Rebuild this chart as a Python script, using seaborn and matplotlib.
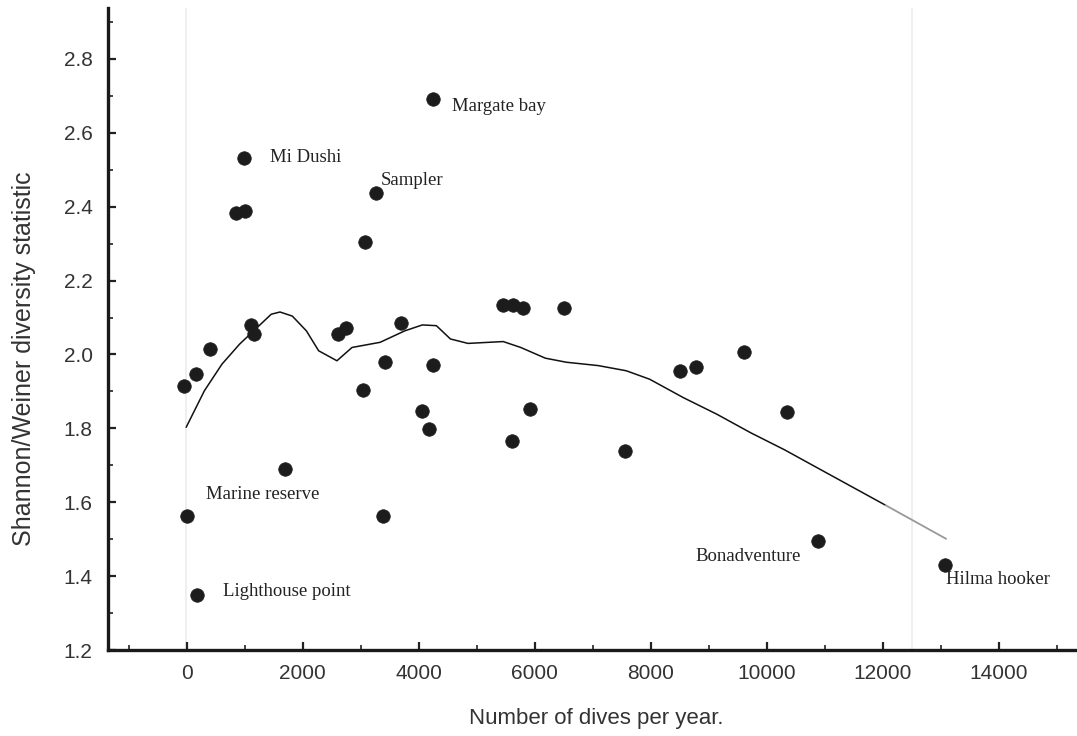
import numpy as np
import pandas as pd
import matplotlib
matplotlib.use("Agg")
import matplotlib.pyplot as plt
import seaborn as sns
from matplotlib.ticker import MultipleLocator

# dive sites: dives per year vs Shannon/Weiner diversity
dives = [-50, 150, 400, 1100, 1150, 2600, 2750, 3700, 3420, 4240, 3030, 4050,
         4180, 5910, 5610, 7560, 1700, 0, 3390, 170, 5450, 5620, 5800, 6500,
         4250, 985, 3270, 850, 1000, 3070, 8500, 8780, 9600, 10350, 10890, 13080]
diversity = [1.916, 1.947, 2.015, 2.080, 2.055, 2.055, 2.073, 2.085, 1.979, 1.971,
             1.904, 1.847, 1.799, 1.853, 1.765, 1.740, 1.691, 1.563, 1.563, 1.348,
             2.135, 2.135, 2.125, 2.126, 2.693, 2.531, 2.438, 2.382, 2.389, 2.305,
             1.954, 1.965, 2.008, 1.845, 1.494, 1.431]

# smoothed trend line
trend_x = [-12, 303, 606, 909, 1212, 1455, 1606, 1818, 2061, 2273, 2588, 2848,
           3333, 3758, 4061, 4303, 4545, 4848, 5455, 5758, 6182, 6545, 7091,
           7576, 7981, 8564, 9143, 9724, 10306, 10886, 11467, 12048, 13093]
trend_y = [1.803, 1.902, 1.974, 2.028, 2.073, 2.109, 2.115, 2.104, 2.064, 2.010,
           1.983, 2.019, 2.033, 2.064, 2.080, 2.078, 2.042, 2.030, 2.035, 2.019,
           1.990, 1.979, 1.970, 1.956, 1.933, 1.883, 1.838, 1.788, 1.742, 1.692,
           1.642, 1.592, 1.501]

site_names = ["Margate bay", "Mi Dushi", "Sampler", "Marine reserve",
              "Lighthouse point", "Bonadventure", "Hilma hooker"]
name_x = [4568, 1429, 3347, 333, 618, 8766, 13083]
name_y = [2.672, 2.533, 2.472, 1.621, 1.358, 1.453, 1.390]

sns.set_style("ticks")
plt.rcParams['font.family'] = ['Liberation Sans', 'DejaVu Sans']

fig = plt.figure(figsize=(10.77, 7.36), dpi=100)
ax = fig.add_axes([108 / 1077, 1 - 650 / 736, 1 - 108 / 1077, 642 / 736])

# faint scan lines
for xv in [-20, 12500]:
    ax.axvline(xv, color="#ececec", lw=1.2, zorder=0)

sites = pd.DataFrame({"dives": dives, "diversity": diversity})
trend = pd.DataFrame({"x": trend_x, "y": trend_y})
main = trend[trend["x"] <= 12048]
tail = trend[trend["x"] >= 12048]

sns.lineplot(data=main, x="x", y="y", sort=False, estimator=None,
             color="#111111", lw=1.1, ax=ax, zorder=2)
sns.lineplot(data=tail, x="x", y="y", sort=False, estimator=None,
             color="#999999", lw=1.3, ax=ax, zorder=2)
sns.scatterplot(data=sites, x="dives", y="diversity", s=95, color="#1c1c1c",
                edgecolor="#1c1c1c", linewidth=0.5, ax=ax, zorder=3)

for name, tx, ty in zip(site_names, name_x, name_y):
    ax.text(tx, ty, name, ha="left", va="center", fontsize=13.5,
            family=["Liberation Serif", "DejaVu Serif"], color="#222222")

ax.set_xlim(-1360, 15350)
ax.set_ylim(1.2, 2.938)
ax.set_xticks(np.arange(0, 14001, 2000))
ax.xaxis.set_minor_locator(MultipleLocator(1000))
ax.set_yticks(np.arange(1.2, 2.81, 0.2))
ax.yaxis.set_minor_locator(MultipleLocator(0.1))
ax.set_yticklabels([f"{v:.1f}" for v in np.arange(1.2, 2.81, 0.2)])

ax.tick_params(which="major", direction="in", length=6, width=1.6,
               labelsize=15, colors="#222222", labelcolor="#333333")
ax.tick_params(which="minor", direction="in", length=3.5, width=1.2, colors="#222222")
ax.tick_params(axis="y", pad=11)
ax.tick_params(axis="x", pad=10)

for side in ["top", "right"]:
    ax.spines[side].set_visible(False)
for side in ["left", "bottom"]:
    ax.spines[side].set_linewidth(2.4)
    ax.spines[side].set_color("#1a1a1a")

ax.set_xlabel("Number of dives per year.", fontsize=16, color="#333333")
ax.set_ylabel("Shannon/Weiner diversity statistic", fontsize=18, color="#333333")
ax.xaxis.set_label_coords((596 - 108) / 969, (650 - 708) / 642)
ax.yaxis.set_label_coords((36 - 108) / 969, (650 - 359) / 642)

fig.savefig("out.png", dpi=100)
